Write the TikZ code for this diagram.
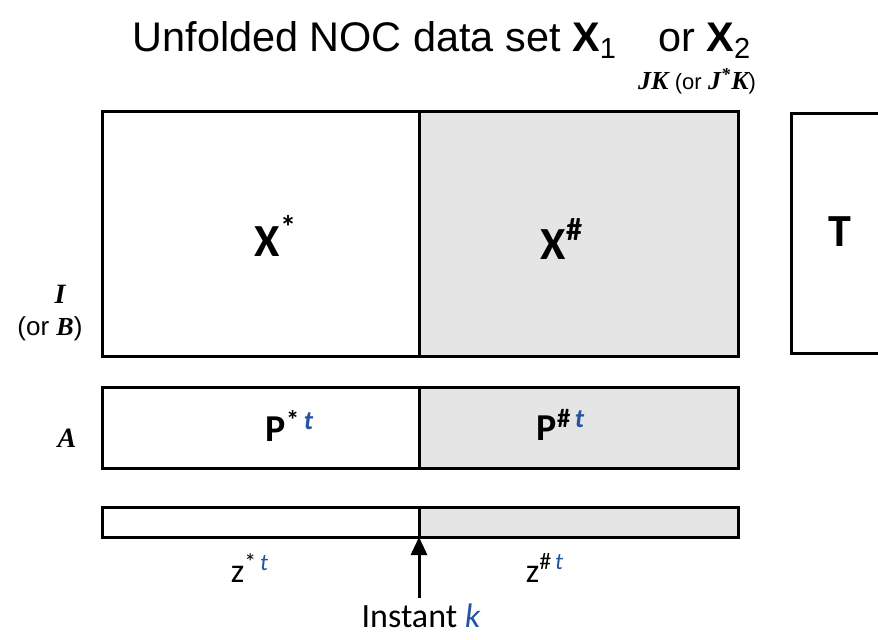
\documentclass[tikz,border=0pt]{standalone}
\usepackage{fontspec}
\setmainfont{Carlito}
\newfontfamily\arialfont{Liberation Sans}
\newfontfamily\timesfont{Liberation Serif}
\usetikzlibrary{arrows.meta}
\tikzset{>={Triangle[length=9pt,width=8pt]}}
\definecolor{cellgray}{RGB}{229,229,229}
\definecolor{tblue}{RGB}{35,85,160}
\newcommand{\tsup}{\textcolor{tblue}{\itshape t}}

\begin{document}
\begin{tikzpicture}[x=.5pt,y=-.5pt,line width=1.5pt]
\useasboundingbox (0,0) rectangle (878,639);
\clip (0,0) rectangle (878,639);
% data matrix
\coordinate (xa) at (102,111);
\coordinate (xm) at (419,111);
\coordinate (xb) at (738,356);
\fill[cellgray] (419,111) rectangle (xb);
\draw (xa) rectangle (xb);
\draw (xm) -- (419,356);
% loadings
\coordinate (pa) at (102,387);
\coordinate (pb) at (738,468);
\fill[cellgray] (419,387) rectangle (pb);
\draw (pa) rectangle (pb);
\draw (419,387) -- (419,468);
% new observation
\coordinate (za) at (102,507);
\coordinate (zb) at (738,537);
\coordinate (zk) at (419,537);
\fill[cellgray] (419,507) rectangle (zb);
\draw (za) rectangle (zb);
\draw (419,507) -- (zk);
% scores
\draw (900,113) -- (791,113) -- (791,353) -- (900,353);
\node (t) at (840,232) {\fontsize{23}{23}\selectfont\bfseries T};
% labels
\node (title) at (442,40) {\arialfont\fontsize{20.7}{21}\selectfont Unfolded NOC data set \textbf{X}\textsubscript{1}\quad or \textbf{X}\textsubscript{2}};
\node (jk) at (697,81) {\timesfont\fontsize{13}{13}\selectfont\bfseries\itshape JK {\arialfont\mdseries\upshape\fontsize{11}{11}\selectfont(or} J\textsuperscript{*}K{\arialfont\mdseries\upshape\fontsize{11}{11}\selectfont)}};
\node (i) at (60,294) {\timesfont\fontsize{14}{14}\selectfont\bfseries\itshape I};
\node (b) at (50,329) {\arialfont\fontsize{13}{13}\selectfont(or \timesfont\bfseries\itshape B\arialfont\mdseries\upshape)};
\node (a) at (67,438) {\timesfont\fontsize{14}{14}\selectfont\bfseries\itshape A};
\node (xs) at (276,236) {\fontsize{23}{23}\selectfont\bfseries X\textsuperscript{*}};
\node (xh) at (562,239) {\fontsize{23}{23}\selectfont\bfseries X\textsuperscript{\#}};
\node (ps) at (290,426) {\fontsize{19}{19}\selectfont\bfseries P\textsuperscript{*\,\tsup}};
\node (ph) at (561,425) {\fontsize{19}{19}\selectfont\bfseries P\textsuperscript{\#\,\tsup}};
\node (zs) at (250,568) {\fontsize{17}{17}\selectfont z\textsuperscript{*\,\tsup}};
\node (zh) at (545,568) {\fontsize{17}{17}\selectfont z\textsuperscript{\#\,\tsup}};
\node (ik) at (421,616) {\fontsize{17}{17}\selectfont Instant \textcolor{tblue}{\itshape k}};
\coordinate (kfoot) at (419,598);
\draw[->] (kfoot) -- (zk);
\end{tikzpicture}
\end{document}
